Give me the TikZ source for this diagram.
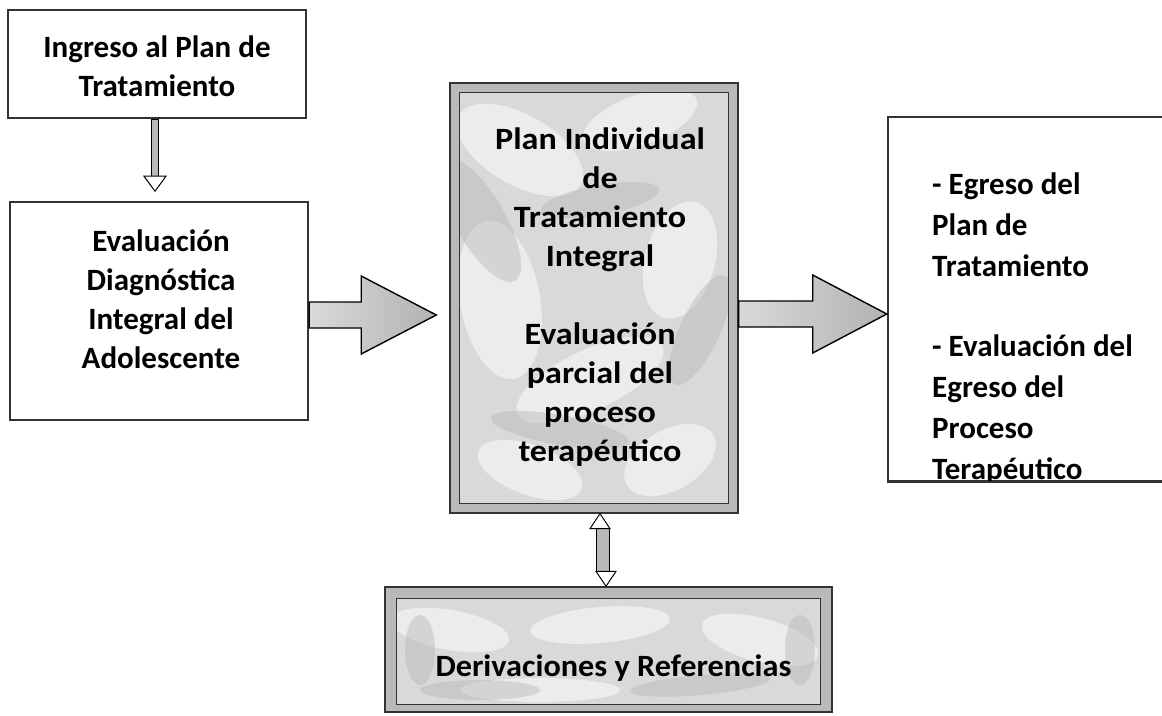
\documentclass[tikz,border=0pt]{standalone}
\usepackage{fontspec}
\setmainfont{Carlito}
\usetikzlibrary{calc}
\begin{document}
\begin{tikzpicture}[x=1pt,y=-1pt,
  txt/.style={font=\bfseries\fontsize{31}{39}\selectfont, align=center, inner sep=0pt, text=black},
  plainbox/.style={draw=black!80, line width=2.4pt, fill=white, inner sep=0pt},
  boxline/.style={draw=black!80, line width=2.4pt},
  stonebox/.style={draw=black!80, line width=1.4pt, fill=gray!55, inner sep=0pt},
  innerframe/.style={draw=black!80, line width=1.2pt},
  blob/.style={fill=white, opacity=0.5},
  darkblob/.style={fill=gray!60, opacity=0.4},
  blockarrow/.style={draw=black, line width=1.4pt, line join=miter, left color=gray!30, right color=gray!60},
  thinshaft/.style={draw=black, line width=0.9pt, fill=gray!55},
  thinhead/.style={draw=black, line width=1pt, fill=white, line join=miter}]
\useasboundingbox (0,0) rectangle (1162,715);
\fill[white] (0,0) rectangle (1162,715);

% left boxes
\node[plainbox, minimum width=298pt, minimum height=108pt] (b1) at (157,64) {};
\node[txt] (t1) at (157,66) {Ingreso al Plan de\\Tratamiento};
\node[plainbox, minimum width=298pt, minimum height=218pt] (b2) at (159,311) {};
\node[txt] (t2) at (161,299) {Evaluación\\Diagnóstica\\Integral del\\Adolescente};

% center stone box
\node[stonebox, minimum width=288pt, minimum height=430pt] (c) at (594,298) {};
\begin{scope}
  \clip ($(c.north west)+(10,10)$) rectangle ($(c.south east)+(-10,-10)$);
  \fill[gray!30] ($(c.north west)+(10,10)$) rectangle ($(c.south east)+(-10,-10)$);
  \fill[blob] (520,150) ellipse [x radius=70, y radius=35, rotate=-30];
  \fill[blob] (640,120) ellipse [x radius=60, y radius=25, rotate=20];
  \fill[blob] (500,300) ellipse [x radius=40, y radius=80, rotate=10];
  \fill[blob] (680,260) ellipse [x radius=35, y radius=60, rotate=-15];
  \fill[blob] (590,380) ellipse [x radius=80, y radius=30, rotate=25];
  \fill[blob] (530,470) ellipse [x radius=55, y radius=25, rotate=-20];
  \fill[blob] (670,460) ellipse [x radius=50, y radius=30, rotate=30];
  \fill[darkblob] (480,220) ellipse [x radius=25, y radius=70, rotate=30];
  \fill[darkblob] (700,330) ellipse [x radius=20, y radius=60, rotate=-25];
  \fill[darkblob] (600,200) ellipse [x radius=60, y radius=15, rotate=10];
  \fill[darkblob] (560,430) ellipse [x radius=70, y radius=15, rotate=-10];
\end{scope}
\draw[innerframe] ($(c.north west)+(10,10)$) rectangle ($(c.south east)+(-10,-10)$);
\node[txt, xscale=1.1] (tc) at (600,297) {Plan Individual\\de\\Tratamiento\\Integral\\[39pt]Evaluación\\parcial del\\proceso\\terapéutico};

% right box (text clipped by the frame, as in the original)
\node[plainbox, minimum width=275pt, minimum height=364pt] (b4) at (1025.5,299) {};
\begin{scope}
  \clip (b4.north west) rectangle (b4.south east);
  \node[txt, align=left, anchor=west] (t4) at (932,329) {- Egreso del\\[2pt]Plan de\\[2pt]Tratamiento\\[41pt]- Evaluación del\\[2pt]Egreso del\\[2pt]Proceso\\[2pt]Terapéutico};
\end{scope}
\draw[boxline] (b4.south west) -- (b4.south east);

% bottom stone box
\node[stonebox, minimum width=447pt, minimum height=125pt] (d) at (608.5,649.5) {};
\begin{scope}
  \clip ($(d.north west)+(12,12)$) rectangle ($(d.south east)+(-12,-8)$);
  \fill[gray!30] ($(d.north west)+(12,12)$) rectangle ($(d.south east)+(-12,-8)$);
  \fill[blob] (450,630) ellipse [x radius=60, y radius=20, rotate=-10];
  \fill[blob] (600,625) ellipse [x radius=70, y radius=18, rotate=5];
  \fill[blob] (760,640) ellipse [x radius=60, y radius=22, rotate=-15];
  \fill[blob] (540,690) ellipse [x radius=80, y radius=12];
  \fill[darkblob] (480,690) ellipse [x radius=60, y radius=10];
  \fill[darkblob] (700,685) ellipse [x radius=70, y radius=10, rotate=5];
  \fill[darkblob] (420,650) ellipse [x radius=15, y radius=35];
  \fill[darkblob] (800,650) ellipse [x radius=15, y radius=35];
\end{scope}
\draw[innerframe] ($(d.north west)+(12,12)$) rectangle ($(d.south east)+(-12,-8)$);
\node[txt, xscale=1.04] (td) at (613.5,668) {Derivaciones y Referencias};

% down arrow b1 -> b2
\coordinate (s1) at ($(b1.south)+(-2,0)$);
\draw[thinshaft] ($(s1)+(-3.5,0)$) rectangle ($(s1)+(3.5,57)$);
\draw[thinhead] ($(s1)+(-11,57)$) -- ($(s1)+(11,57)$) -- ($(s1)+(0,72)$) -- cycle;

% block arrow b2 -> c
\coordinate (a1) at ($(b2.east)+(0,4)$);
\coordinate (a1tip) at ($(c.west)+(-13,17)$);
\draw[blockarrow] ($(a1)+(0,-13)$) -- ($(a1)+(52,-13)$) -- ($(a1)+(52,-39)$) -- (a1tip)
  -- ($(a1)+(52,39)$) -- ($(a1)+(52,13)$) -- ($(a1)+(0,13)$) -- cycle;

% block arrow c -> b4
\coordinate (a2) at ($(c.east)+(0,16)$);
\coordinate (a2tip) at ($(b4.west)+(0,15)$);
\draw[blockarrow] ($(a2)+(0,-13)$) -- ($(a2)+(74,-13)$) -- ($(a2)+(74,-39)$) -- (a2tip)
  -- ($(a2)+(74,39)$) -- ($(a2)+(74,13)$) -- ($(a2)+(0,13)$) -- cycle;

% double arrow c <-> d
\coordinate (u) at ($(c.south)+(6,0)$);
\coordinate (v) at ($(d.north)+(-2.5,0)$);
\draw[thinshaft] ($(u)+(-3.5,15)$) rectangle ($(v)+(3.5,-15)$);
\draw[thinhead] ($(u)+(-10,15)$) -- ($(u)+(10,15)$) -- (u) -- cycle;
\draw[thinhead] ($(v)+(-10,-15)$) -- ($(v)+(10,-15)$) -- (v) -- cycle;
\end{tikzpicture}
\end{document}
